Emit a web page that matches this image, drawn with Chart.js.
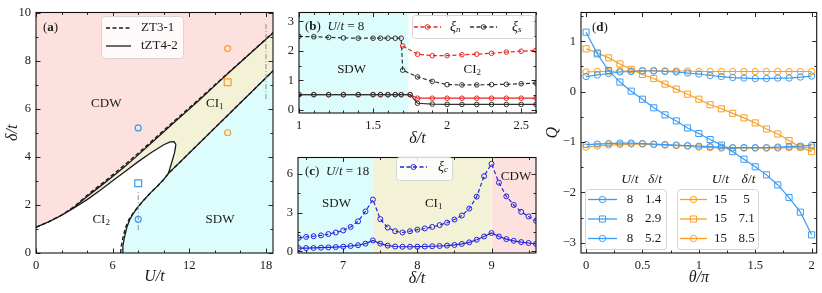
<!DOCTYPE html>
<html>
<head>
<meta charset="utf-8">
<script src="https://cdn.jsdelivr.net/npm/chart.js@4.4.1/dist/chart.umd.min.js"></script>
<style>
  body { margin: 0; background: #fff; }
  canvas { position: absolute; }
</style>
</head>
<body>
<canvas id="chartA" width="290" height="293" style="left:0;top:0"></canvas>
<canvas id="chartB" width="262" height="150" style="left:280px;top:0"></canvas>
<canvas id="chartC" width="262" height="148" style="left:280px;top:145px"></canvas>
<canvas id="chartD" width="279" height="293" style="left:543px;top:0"></canvas>
<script>
const SERIF = '"Liberation Serif", "DejaVu Serif", serif'
const INK = '#1a1a1a'
const PINK = 'rgb(253,225,222)'
const CYAN = 'rgb(221,253,253)'
const BEIGE = 'rgb(243,241,214)'
const BLUE = 'rgb(58,155,243)'
const ORANGE = 'rgb(247,158,38)'
const RED = 'rgb(233,38,32)'
const DARK = 'rgb(50,50,50)'
const NAVY = 'rgb(35,35,222)'
const GRAY = '#8c8c8c'

// (a) phase diagram
const aTicksX = [0, 6, 12, 18]
const aTicksY = [0, 2, 4, 6, 8, 10]
const aCdwU = [0, 1, 2, 3, 4, 5, 6, 7, 8, 9, 10, 11, 12, 13, 14, 15, 16, 17, 18, 18.6]
const aCdwD = [1.07, 1.3, 1.57, 1.9, 2.35, 2.76, 3.18, 3.62, 4.08, 4.56, 5.04, 5.52, 5.99, 6.47, 6.96, 7.45, 7.93, 8.41, 8.89, 9.17]
const aCdwDashD = [1.07, 1.3, 1.58, 1.93, 2.4, 2.82, 3.25, 3.69, 4.15, 4.62, 5.1, 5.57, 6.04, 6.51, 6.99, 7.47, 7.94, 8.42, 8.9, 9.18]
const aBubbleU = [0, 1, 2, 2.5, 3, 4, 5, 6, 7, 8, 9, 10, 10.5, 10.8, 10.95]
const aBubbleD = [1.07, 1.3, 1.57, 1.73, 1.88, 2.22, 2.6, 3.0, 3.4, 3.8, 4.17, 4.5, 4.62, 4.63, 4.52]
const aTipU = [10.35, 10.6, 10.85, 10.95]
const aTipD = [3.3, 3.72, 4.18, 4.52]
const aSdwU = [6.75, 6.8, 6.9, 7.1, 7.35, 7.6, 8.0, 8.4, 9.0, 9.5, 10.0, 10.35, 18.6]
const aSdwDashU = [6.62, 6.68, 6.79, 7.0, 7.28, 7.56, 8.0, 8.4, 9.0, 9.5, 10.0, 10.35, 18.6]
const aSdwD = [0, 0.3, 0.6, 1.05, 1.4, 1.63, 1.93, 2.18, 2.52, 2.78, 3.06, 3.3, 7.6]
const aCutB = [0.95, 2.6]
const aCutC = [6.4, 9.6]
const aBlueCircleD = [5.2, 1.4]
const aBlueSquareD = [2.9]
const aOrangeCircleD = [8.5, 5]
const aOrangeSquareD = [7.1]

// (b) U/t = 8
const bTicksX = [1, 1.5, 2, 2.5]
const bTicksY = [0, 1, 2, 3]
const bPhase = [1, 1.74]
const bUpperSX = [1.0, 1.1, 1.2, 1.3, 1.4, 1.5, 1.55, 1.6, 1.65, 1.69, 1.7, 1.8, 1.9, 2.0, 2.1, 2.2, 2.3, 2.4, 2.5, 2.6]
const bUpperS = [2.49, 2.48, 2.46, 2.44, 2.43, 2.43, 2.43, 2.43, 2.43, 2.43, 1.35, 1.12, 0.97, 0.86, 0.85, 0.85, 0.86, 0.87, 0.89, 0.91]
const bUpperNX = [1.7, 1.8, 1.9, 2.0, 2.1, 2.2, 2.3, 2.4, 2.5, 2.6]
const bUpperN = [2.17, 1.89, 1.84, 1.84, 1.87, 1.89, 1.92, 1.96, 1.99, 2.02]
const bLowerX = [1.0, 1.1, 1.2, 1.3, 1.4, 1.5, 1.55, 1.6, 1.65, 1.69, 1.75, 1.8, 1.9, 2.0, 2.1, 2.2, 2.3, 2.4, 2.5, 2.6]
const bLowerN = [0.52, 0.52, 0.52, 0.52, 0.52, 0.52, 0.52, 0.52, 0.52, 0.52, 0.52, 0.4, 0.4, 0.4, 0.4, 0.4, 0.4, 0.4, 0.4, 0.4]
const bLowerS = [0.52, 0.52, 0.52, 0.52, 0.52, 0.52, 0.52, 0.52, 0.52, 0.52, 0.52, 0.23, 0.2, 0.19, 0.19, 0.19, 0.19, 0.19, 0.19, 0.19]

// (c) U/t = 18
const cTicksX = [7, 8, 9]
const cTicksY = [0, 3, 6]
const cPhase = [6.39, 7.4, 9.0, 9.6]
const cDelta = [6.4, 6.5, 6.6, 6.7, 6.8, 6.9, 7.0, 7.1, 7.2, 7.3, 7.4, 7.5, 7.6, 7.7, 7.8, 7.9, 8.0, 8.1, 8.2, 8.3, 8.4, 8.5, 8.6, 8.7, 8.8, 8.9, 9.0, 9.1, 9.2, 9.3, 9.4, 9.5, 9.6]
const cUpper = [1.05, 1.12, 1.17, 1.24, 1.34, 1.46, 1.62, 1.89, 2.32, 3.08, 4.0, 2.49, 1.84, 1.56, 1.46, 1.56, 1.68, 1.77, 1.89, 2.03, 2.22, 2.46, 2.77, 3.3, 4.22, 5.8, 6.75, 5.3, 4.25, 3.58, 3.05, 2.7, 2.36]
const cLower = [0.25, 0.26, 0.27, 0.29, 0.31, 0.34, 0.37, 0.42, 0.48, 0.6, 0.85, 0.6, 0.45, 0.38, 0.36, 0.36, 0.37, 0.38, 0.4, 0.42, 0.45, 0.5, 0.58, 0.7, 0.9, 1.15, 1.42, 1.15, 0.95, 0.82, 0.72, 0.65, 0.58]

// (d) Q vs theta
const dTicksX = [0, 0.5, 1, 1.5, 2]
const dTicksY = [-3, -2, -1, 0, 1]
const dTheta = [0, 0.1, 0.2, 0.3, 0.4, 0.5, 0.6, 0.7, 0.8, 0.9, 1.0, 1.1, 1.2, 1.3, 1.4, 1.5, 1.6, 1.7, 1.8, 1.9, 2.0]
const dU8d14 = [0.30, 0.33, 0.36, 0.39, 0.40, 0.41, 0.41, 0.40, 0.39, 0.37, 0.35, 0.32, 0.30, 0.28, 0.27, 0.26, 0.26, 0.27, 0.27, 0.29, 0.31]
const dU8d29 = [1.18, 0.75, 0.42, 0.19, 0.01, -0.15, -0.32, -0.46, -0.58, -0.72, -0.83, -0.95, -1.06, -1.19, -1.34, -1.49, -1.65, -1.85, -2.10, -2.39, -2.84]
const dU8d52 = [-1.05, -1.04, -1.03, -1.02, -1.02, -1.03, -1.04, -1.05, -1.06, -1.07, -1.08, -1.09, -1.10, -1.11, -1.11, -1.11, -1.11, -1.10, -1.09, -1.08, -1.06]
const dU15d5 = [0.39, 0.40, 0.40, 0.41, 0.41, 0.42, 0.42, 0.41, 0.41, 0.41, 0.40, 0.40, 0.40, 0.40, 0.40, 0.40, 0.40, 0.40, 0.40, 0.40, 0.40]
const dU15d71 = [0.85, 0.77, 0.67, 0.55, 0.44, 0.34, 0.26, 0.15, 0.05, -0.05, -0.15, -0.26, -0.34, -0.43, -0.52, -0.62, -0.74, -0.84, -0.97, -1.10, -1.19]
const dU15d85 = [-1.10, -1.08, -1.06, -1.05, -1.04, -1.04, -1.05, -1.06, -1.07, -1.08, -1.10, -1.11, -1.12, -1.12, -1.12, -1.12, -1.12, -1.12, -1.11, -1.11, -1.10]
const dLegendU = ['8', '8', '8', '15', '15', '15']
const dLegendD = ['1.4', '2.9', '5.2', '5', '7.1', '8.5']

Chart.defaults.font.family = SERIF

function mk(xs, ys) {
    return xs.map((x, i) => ({x: x, y: ys[i]}))
}
function font(size, style) {
    return (style ? style + ' ' : '') + size + 'px ' + SERIF
}

function txt(ctx, runs, x, y, align) {
    ctx.save()
    ctx.fillStyle = INK
    ctx.textBaseline = 'middle'
    ctx.textAlign = 'left'
    let w = 0
    runs.forEach(r => { ctx.font = font(r[1], r[2]); w += ctx.measureText(r[0]).width })
    let cx = align === 'left' ? x : align === 'right' ? x - w : x - w / 2
    runs.forEach(r => {
        ctx.font = font(r[1], r[2])
        ctx.fillText(r[0], cx, y + (r[3] || 0))
        cx += ctx.measureText(r[0]).width
    })
    ctx.restore()
}

function at(chart, x, y) {
    return [chart.scales.x.getPixelForValue(x), chart.scales.y.getPixelForValue(y)]
}

function mark(ctx, x, y, style, r, color) {
    ctx.beginPath()
    if (style === 'rect') {
        const s = r * Math.SQRT1_2
        ctx.rect(x - s, y - s, 2 * s, 2 * s)
    } else {
        ctx.arc(x, y, r, 0, 2 * Math.PI)
    }
    ctx.strokeStyle = color
    ctx.lineWidth = 1
    ctx.stroke()
}

function sample(ctx, x0, x1, y, color, dash, style, r) {
    ctx.save()
    ctx.strokeStyle = color
    ctx.lineWidth = 1.3
    ctx.setLineDash(dash || [])
    ctx.beginPath()
    ctx.moveTo(x0, y)
    ctx.lineTo(x1, y)
    ctx.stroke()
    ctx.setLineDash([])
    if (style) mark(ctx, (x0 + x1) / 2, y, style, r, color)
    ctx.restore()
}

function legendBox(ctx, x, y, w, h) {
    ctx.save()
    ctx.fillStyle = 'rgba(255,255,255,0.82)'
    ctx.strokeStyle = '#d6d6d6'
    ctx.lineWidth = 1
    ctx.beginPath()
    ctx.roundRect(x + 0.5, y + 0.5, w, h, 3)
    ctx.fill()
    ctx.stroke()
    ctx.restore()
}

function inTicks(ctx, sc, a, step, major, horiz) {
    const first = Math.ceil((sc.min - 1e-9) / step)
    const last = Math.floor((sc.max + 1e-9) / step)
    for (let i = first; i <= last; i++) {
        const v = i * step
        const big = major.some(m => Math.abs(m - v) < 1e-6)
        const len = big ? 4.5 : 2.5
        const p = Math.round(sc.getPixelForValue(v)) + 0.5
        ctx.beginPath()
        if (horiz) {
            ctx.moveTo(p, a.bottom); ctx.lineTo(p, a.bottom - len)
            ctx.moveTo(p, a.top); ctx.lineTo(p, a.top + len)
        } else {
            ctx.moveTo(a.left, p); ctx.lineTo(a.left + len, p)
            ctx.moveTo(a.right, p); ctx.lineTo(a.right - len, p)
        }
        ctx.stroke()
    }
}

function boxPlugin(xMajor, xMinor, yMajor, yMinor, extra) {
    return {
        id: 'box',
        afterDraw(chart) {
            const ctx = chart.ctx
            const a = chart.chartArea
            ctx.save()
            ctx.strokeStyle = '#111'
            ctx.lineWidth = 0.9
            inTicks(ctx, chart.scales.x, a, xMinor, xMajor, true)
            inTicks(ctx, chart.scales.y, a, yMinor, yMajor, false)
            ctx.lineWidth = 1.1
            ctx.strokeRect(a.left, a.top, a.right - a.left, a.bottom - a.top)
            ctx.restore()
            if (extra) extra(chart, ctx)
        }
    }
}

function axis(min, max, ticks, fit, isX, title, tpad) {
    return {
        type: 'linear',
        min: min,
        max: max,
        grid: {display: false, drawTicks: false},
        border: {display: false},
        afterBuildTicks: s => { s.ticks = ticks.map(v => ({value: v})) },
        afterFit: s => { if (isX) s.height = fit; else s.width = fit },
        ticks: {
            autoSkip: false, maxRotation: 0, padding: 5, color: '#1a1a1a',
            font: {family: SERIF, size: 12.5},
            callback: v => String(v).replace('-', '\u2212')
        },
        title: {
            display: !!title, text: title || '', color: '#1a1a1a',
            font: {family: SERIF, size: 16, style: 'italic'},
            padding: isX ? {top: 0, bottom: tpad} : {top: tpad, bottom: 0}
        }
    }
}

function options(x, y, pad) {
    return {
        responsive: false,
        animation: false,
        events: [],
        layout: {padding: pad},
        elements: {point: {radius: 0}, line: {tension: 0}},
        plugins: {legend: {display: false}, tooltip: {enabled: false}},
        scales: {x: x, y: y}
    }
}

function markers(xs, ys, color, style, r, order) {
    return {
        data: mk(xs, ys), showLine: false, pointStyle: style, pointRadius: r,
        pointBorderColor: color, pointBackgroundColor: 'transparent', pointBorderWidth: 1.2, order: order
    }
}

function series(xs, ys, color, dash, style, r, order) {
    return {
        data: mk(xs, ys), borderColor: color, borderWidth: 1.2, borderDash: dash,
        pointStyle: style, pointRadius: r, pointBorderColor: color,
        pointBackgroundColor: 'transparent', pointBorderWidth: 1, order: order
    }
}

// panel (a)
new Chart(document.getElementById('chartA'), {
    type: 'line',
    data: {datasets: [
        {data: mk(aCdwU, aCdwD), fill: 'start', backgroundColor: BEIGE, borderColor: 'transparent', borderWidth: 1, order: 9},
        {data: mk(aBubbleU, aBubbleD), fill: 'start', backgroundColor: '#fff', borderColor: INK, borderWidth: 1.3, order: 8},
        {data: mk(aTipU, aTipD), fill: 'start', backgroundColor: BEIGE, borderColor: INK, borderWidth: 1.3, order: 7},
        {data: mk(aSdwU, aSdwD), fill: 'start', backgroundColor: CYAN, borderColor: INK, borderWidth: 1.3, order: 6},
        {data: mk(aCdwU, aCdwD), fill: 'end', backgroundColor: PINK, borderColor: INK, borderWidth: 1.3, order: 5},
        {data: mk(aCdwU, aCdwDashD), borderColor: INK, borderWidth: 1.4, borderDash: [4, 2.5], order: 4},
        {data: mk(aSdwDashU, aSdwD), borderColor: INK, borderWidth: 1.4, borderDash: [4, 2.5], order: 3},
        {data: mk([8, 8], aCutB), borderColor: GRAY, borderWidth: 1, borderDash: [5, 2, 1, 2], order: 2},
        {data: mk([18, 18], aCutC), borderColor: GRAY, borderWidth: 1, borderDash: [5, 2, 1, 2], order: 2},
        markers([8, 8], aBlueCircleD, BLUE, 'circle', 3, 1),
        markers([8], aBlueSquareD, BLUE, 'rect', 4.8, 1),
        markers([15, 15], aOrangeCircleD, ORANGE, 'circle', 3, 1),
        markers([15], aOrangeSquareD, ORANGE, 'rect', 4.8, 1)
    ]},
    options: options(axis(0, 18.55, aTicksX, 40, true, 'U/t', 7), axis(0, 10, aTicksY, 36, false, '\u03b4/t', 3), {top: 10, right: 17, left: 0, bottom: 0}),
    plugins: [boxPlugin(aTicksX, 2, aTicksY, 1, (chart, ctx) => {
        const a = chart.chartArea
        txt(ctx, [['(', 13], ['a', 13, 'bold'], [')', 13]], a.left + 7, a.top + 15, 'left')
        let p = at(chart, 5.5, 6.2); txt(ctx, [['CDW', 13]], p[0], p[1])
        p = at(chart, 14.0, 6.2); txt(ctx, [['CI', 13], ['1', 9, '', 3]], p[0], p[1])
        p = at(chart, 5.1, 1.4); txt(ctx, [['CI', 13], ['2', 9, '', 3]], p[0], p[1])
        p = at(chart, 14.4, 1.4); txt(ctx, [['SDW', 13]], p[0], p[1])
        legendBox(ctx, 101, 16, 82, 42)
        sample(ctx, 106, 131, 28, INK, [4, 2.5])
        sample(ctx, 106, 131, 46, INK, [])
        txt(ctx, [['ZT3-1', 13]], 141, 28, 'left')
        txt(ctx, [['tZT4-2', 13]], 141, 46, 'left')
    })]
})

// panel (b)
new Chart(document.getElementById('chartB'), {
    type: 'line',
    data: {datasets: [
        {data: mk(bPhase, [3.3, 3.3]), fill: 'start', backgroundColor: CYAN, borderColor: 'transparent', borderWidth: 1, order: 9},
        series(bUpperNX, bUpperN, RED, [4, 2.5], 'circle', 2.3, 4),
        series(bUpperSX, bUpperS, DARK, [4, 2.5], 'circle', 2.3, 3),
        series(bLowerX, bLowerN, RED, [], 'circle', 2.3, 2),
        series(bLowerX, bLowerS, DARK, [], 'circle', 2.3, 1)
    ]},
    options: options(axis(1, 2.6, bTicksX, 37, true, '\u03b4/t', 2), axis(-0.1, 3.3, bTicksY, 19, false, '', 0), {top: 10, right: 6, left: 0, bottom: 0}),
    plugins: [boxPlugin(bTicksX, 0.1, bTicksY, 0.5, (chart, ctx) => {
        const a = chart.chartArea
        txt(ctx, [['(', 13], ['b', 13, 'bold'], [')  ', 13], ['U', 13, 'italic'], ['/', 13], ['t', 13, 'italic'], [' = 8', 13]], a.left + 6, a.top + 14, 'left')
        let p = at(chart, 1.355, 1.38); txt(ctx, [['SDW', 13]], p[0], p[1])
        p = at(chart, 2.17, 1.38); txt(ctx, [['CI', 13], ['2', 9, '', 3]], p[0], p[1])
        legendBox(ctx, 132, 15, 122, 23)
        sample(ctx, 134, 161, 27, RED, [4, 2.5], 'circle', 2.3)
        txt(ctx, [['\u03be', 14, 'italic'], ['n', 9, 'italic', 3]], 170, 27, 'left')
        sample(ctx, 190, 217, 27, DARK, [4, 2.5], 'circle', 2.3)
        txt(ctx, [['\u03be', 14, 'italic'], ['s', 9, 'italic', 3]], 232, 27, 'left')
    })]
})

// panel (c)
new Chart(document.getElementById('chartC'), {
    type: 'line',
    data: {datasets: [
        {data: mk([cPhase[0], cPhase[1]], [7.24, 7.24]), fill: 'start', backgroundColor: CYAN, borderColor: 'transparent', borderWidth: 1, order: 9},
        {data: mk([cPhase[1], cPhase[2]], [7.24, 7.24]), fill: 'start', backgroundColor: BEIGE, borderColor: 'transparent', borderWidth: 1, order: 9},
        {data: mk([cPhase[2], cPhase[3]], [7.24, 7.24]), fill: 'start', backgroundColor: PINK, borderColor: 'transparent', borderWidth: 1, order: 9},
        series(cDelta, cUpper, NAVY, [4, 2.5], 'circle', 2.5, 2),
        series(cDelta, cLower, NAVY, [], 'circle', 2.5, 1)
    ]},
    options: options(axis(6.39, 9.6, cTicksX, 40, true, '\u03b4/t', 5), axis(-0.12, 7.24, cTicksY, 18, false, '', 0), {top: 5, right: 6, left: 0, bottom: 0}),
    plugins: [boxPlugin(cTicksX, 0.5, cTicksY, 1.5, (chart, ctx) => {
        const a = chart.chartArea
        txt(ctx, [['(', 13], ['c', 13, 'bold'], [')  ', 13], ['U', 13, 'italic'], ['/', 13], ['t', 13, 'italic'], [' = 18', 13]], a.left + 7, a.top + 14, 'left')
        let p = at(chart, 6.91, 3.66); txt(ctx, [['SDW', 13]], p[0], p[1])
        p = at(chart, 8.22, 3.66); txt(ctx, [['CI', 13], ['1', 9, '', 3]], p[0], p[1])
        p = at(chart, 9.33, 5.8); txt(ctx, [['CDW', 13]], p[0], p[1])
        legendBox(ctx, 116, 12, 56, 23)
        sample(ctx, 120, 147, 22, NAVY, [4, 2.5], 'circle', 2.5)
        txt(ctx, [['\u03be', 14, 'italic'], ['c', 9, 'italic', 3]], 158, 22, 'left')
    })]
})

// panel (d)
const dStyles = [[BLUE, 'circle', 3.2], [BLUE, 'rect', 4.3], [BLUE, 'circle', 3.2], [ORANGE, 'circle', 3.2], [ORANGE, 'rect', 4.3], [ORANGE, 'circle', 3.2]]
const dSeries = [dU8d14, dU8d29, dU8d52, dU15d5, dU15d71, dU15d85]
new Chart(document.getElementById('chartD'), {
    type: 'line',
    data: {datasets: dSeries.map((ys, i) => series(dTheta, ys, dStyles[i][0], [], dStyles[i][1], dStyles[i][2], i < 3 ? 1 : 2))},
    options: options(axis(-0.045, 2.045, dTicksX, 40, true, '\u03b8/\u03c0', 6), axis(-3.2, 1.57, dTicksY, 38, false, 'Q', 0), {top: 10, right: 5, left: 0, bottom: 0}),
    plugins: [boxPlugin(dTicksX, 0.25, dTicksY, 0.5, (chart, ctx) => {
        const a = chart.chartArea
        txt(ctx, [['(', 13], ['d', 13, 'bold'], [')', 13]], a.left + 11, a.top + 15, 'left')
        const cols = [[42, 45, 74, 87, 110], [134, 137, 164, 177.5, 203.5]]
        const rows = [199.5, 219, 238.5]
        cols.forEach((c, k) => {
            legendBox(ctx, c[0], 189, 81, 60)
            txt(ctx, [['U', 13.5, 'italic'], ['/', 13.5], ['t', 13.5, 'italic']], c[3], 179)
            txt(ctx, [['\u03b4', 13.5, 'italic'], ['/', 13.5], ['t', 13.5, 'italic']], c[4] + 2, 179)
            rows.forEach((y, j) => {
                const i = k * 3 + j
                sample(ctx, c[1], c[2], y, dStyles[i][0], [], dStyles[i][1], dStyles[i][2])
                txt(ctx, [[dLegendU[i], 13]], c[3], y)
                txt(ctx, [[dLegendD[i], 13]], c[4], y)
            })
        })
    })]
})
</script>
</body>
</html>
